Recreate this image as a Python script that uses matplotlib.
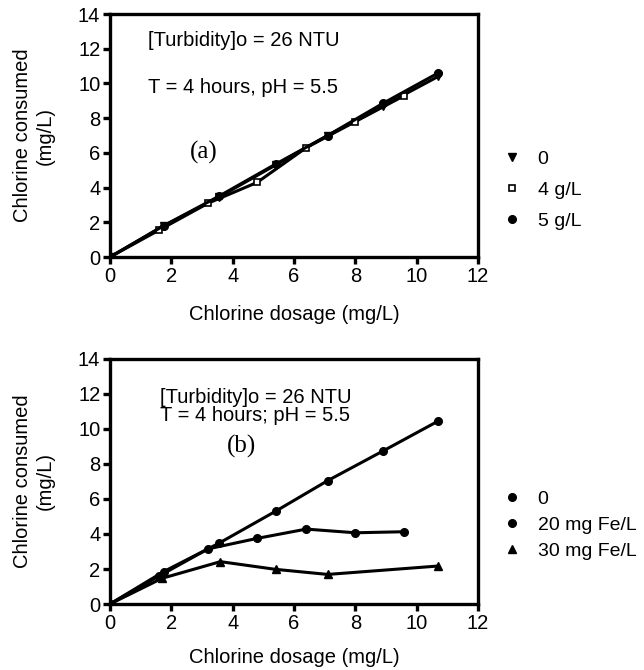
import matplotlib
matplotlib.use("Agg")
import matplotlib.pyplot as plt

plt.rcParams['font.family'] = ['Liberation Sans', 'DejaVu Sans']

# (a) effect of coagulant dose
a_x_0 = [0, 1.75, 3.55, 5.4, 7.1, 8.9, 10.7]
a_y_0 = [0, 1.8, 3.45, 5.3, 7.0, 8.7, 10.4]
a_x_4 = [0, 1.6, 3.2, 4.8, 6.4, 8.0, 9.6]
a_y_4 = [0, 1.55, 3.1, 4.3, 6.3, 7.8, 9.3]
a_x_5 = [0, 1.75, 3.55, 5.4, 7.1, 8.9, 10.7]
a_y_5 = [0, 1.8, 3.5, 5.35, 7.0, 8.85, 10.6]

# (b) effect of iron
b_x_0 = [0, 1.75, 3.55, 5.4, 7.1, 8.9, 10.7]
b_y_0 = [0, 1.85, 3.47, 5.3, 7.05, 8.74, 10.45]
b_x_20 = [0, 1.6, 3.2, 4.8, 6.4, 8.0, 9.6]
b_y_20 = [0, 1.6, 3.15, 3.75, 4.28, 4.07, 4.13]
b_x_30 = [0, 1.7, 3.6, 5.4, 7.1, 10.7]
b_y_30 = [0, 1.47, 2.42, 1.98, 1.69, 2.17]

xticks = [0, 2, 4, 6, 8, 10, 12]
yticks = [0, 2, 4, 6, 8, 10, 12, 14]

fs = 14.5

fig = plt.figure(figsize=(6.44, 6.70), dpi=100)
ax1 = fig.add_axes([0.1708, 0.6164, 0.5714, 0.3627])
ax2 = fig.add_axes([0.1708, 0.0985, 0.5714, 0.3657])


def style_axes(ax, xpad):
    ax.set_xlim(0, 12)
    ax.set_ylim(0, 14)
    ax.set_xticks(xticks)
    ax.set_yticks(yticks)
    for s in ax.spines.values():
        s.set_linewidth(2.4)
    ax.tick_params(direction='out', length=5, width=2.4, labelsize=fs, pad=2)
    ax.set_xlabel('Chlorine dosage (mg/L)', fontsize=fs, labelpad=xpad)
    ax.set_ylabel('Chlorine consumed\n(mg/L)', fontsize=fs, labelpad=17)


lw = 2.2
ax1.plot(a_x_0, a_y_0, color='black', lw=lw, marker='v', ms=5.5, label='0')
ax1.plot(a_x_4, a_y_4, color='black', lw=lw, marker='s', ms=5, mfc='white', mew=1.2, label='4 g/L')
ax1.plot(a_x_5, a_y_5, color='black', lw=lw, marker='o', ms=5.5, label='5 g/L')
style_axes(ax1, 14)
ax1.text(1.24, 12.5, '[Turbidity]o = 26 NTU', fontsize=fs, va='center')
ax1.text(1.24, 9.75, 'T = 4 hours, pH = 5.5', fontsize=fs, va='center')
ax1.text(3.05, 6.05, '(a)', fontsize=18, family='Liberation Serif', ha='center', va='center')
leg1 = ax1.legend(loc='center left', bbox_to_anchor=(1.03, 0.276), frameon=False,
                  handlelength=0.6, handletextpad=1.0, labelspacing=0.7, fontsize=14)
for h in leg1.get_lines():
    h.set_linestyle('none')

ax2.plot(b_x_0, b_y_0, color='black', lw=lw, marker='o', ms=5.5, label='0')
ax2.plot(b_x_20, b_y_20, color='black', lw=lw, marker='o', ms=5.5, label='20 mg Fe/L')
ax2.plot(b_x_30, b_y_30, color='black', lw=lw, marker='^', ms=5.5, label='30 mg Fe/L')
style_axes(ax2, 11)
ax2.text(1.63, 11.8, '[Turbidity]o = 26 NTU', fontsize=fs, va='center')
ax2.text(1.63, 10.75, 'T = 4 hours; pH = 5.5', fontsize=fs, va='center')
ax2.text(4.3, 9.0, '(b)', fontsize=18, family='Liberation Serif', ha='center', va='center')
leg2 = ax2.legend(loc='center left', bbox_to_anchor=(1.03, 0.322), frameon=False,
                  handlelength=0.6, handletextpad=1.0, labelspacing=0.45, fontsize=14)
for h in leg2.get_lines():
    h.set_linestyle('none')

fig.savefig('out.png', dpi=100)
